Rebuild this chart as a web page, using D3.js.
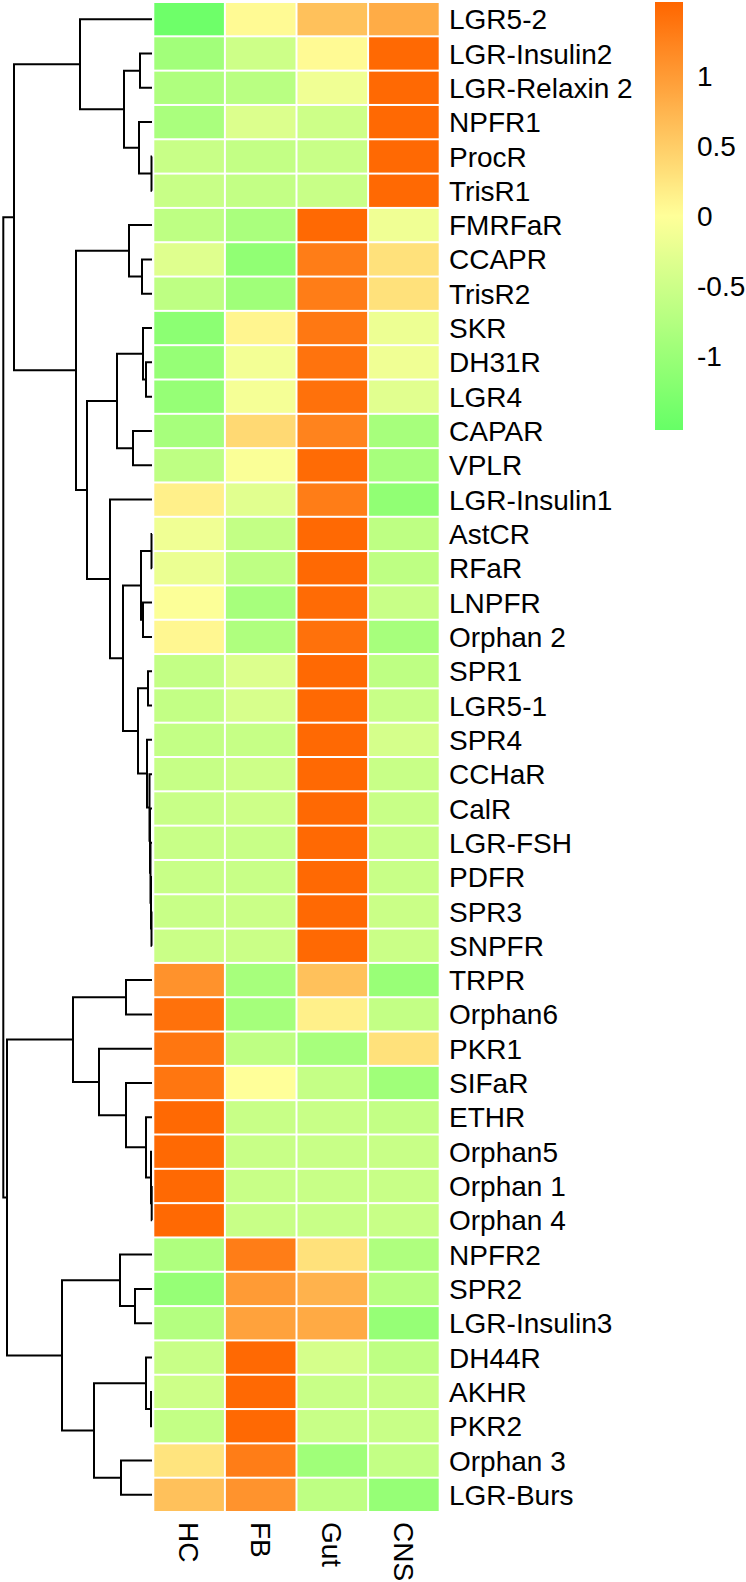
<!DOCTYPE html>
<html>
<head>
<meta charset="utf-8">
<script src="https://cdn.jsdelivr.net/npm/d3@7"></script>
<style>
  html, body { margin: 0; padding: 0; background: #fff; }
  svg { display: block; }
  text { font-family: "Liberation Sans", Arial, Helvetica, sans-serif; fill: #000; }
</style>
</head>
<body>
<svg id="chart" width="746" height="1582"></svg>
<script>
// ---------------- data ----------------
const rows = ["LGR5-2","LGR-Insulin2","LGR-Relaxin 2","NPFR1","ProcR","TrisR1","FMRFaR","CCAPR","TrisR2",
  "SKR","DH31R","LGR4","CAPAR","VPLR","LGR-Insulin1","AstCR","RFaR","LNPFR","Orphan 2","SPR1","LGR5-1",
  "SPR4","CCHaR","CalR","LGR-FSH","PDFR","SPR3","SNPFR","TRPR","Orphan6","PKR1","SIFaR","ETHR","Orphan5",
  "Orphan 1","Orphan 4","NPFR2","SPR2","LGR-Insulin3","DH44R","AKHR","PKR2","Orphan 3","LGR-Burs"];

const cols = ["HC","FB","Gut","CNS"];

const HC  = [-1.45,-0.93,-0.80,-0.85,-0.55,-0.55,-0.65,-0.32,-0.65,-1.15,-1.05,-1.05,-0.88,-0.65,0.15,-0.15,
  -0.20,-0.03,0.08,-0.60,-0.60,-0.60,-0.57,-0.55,-0.55,-0.55,-0.55,-0.53,1.09,1.42,1.37,1.37,1.50,1.50,1.50,1.50,
  -0.80,-1.05,-0.75,-0.55,-0.50,-0.60,0.27,0.62];
const FB  = [0.05,-0.50,-0.70,-0.35,-0.60,-0.60,-0.85,-1.10,-0.95,0.10,-0.12,-0.10,0.38,-0.05,-0.30,-0.60,
  -0.65,-0.88,-0.80,-0.35,-0.40,-0.57,-0.50,-0.50,-0.55,-0.55,-0.53,-0.53,-0.88,-0.90,-0.65,0.00,-0.55,-0.55,-0.55,-0.55,
  1.30,1.00,0.93,1.50,1.50,1.50,1.30,1.08];
const Gut = [0.62,0.05,-0.15,-0.50,-0.55,-0.55,1.50,1.30,1.30,1.35,1.40,1.42,1.24,1.48,1.30,1.50,
  1.50,1.48,1.42,1.50,1.50,1.50,1.50,1.50,1.50,1.50,1.50,1.50,0.62,0.15,-0.88,-0.58,-0.55,-0.55,-0.55,-0.55,
  0.30,0.77,0.85,-0.42,-0.55,-0.55,-0.95,-0.65];
const CNS = [0.83,1.50,1.50,1.50,1.50,1.50,-0.15,0.30,0.30,-0.18,-0.15,-0.30,-0.88,-0.88,-1.10,-0.65,
  -0.65,-0.55,-0.88,-0.65,-0.55,-0.42,-0.55,-0.55,-0.55,-0.55,-0.53,-0.53,-1.02,-0.60,0.30,-0.95,-0.60,-0.55,-0.55,-0.55,
  -0.80,-0.72,-1.05,-0.65,-0.55,-0.55,-0.60,-1.05];

const legendTicks = [-1, -0.5, 0, 0.5, 1];
const legendLabels = ["-1", "-0.5", "0", "0.5", "1"];

// row dendrogram: [left, right, height]; strings = leaves, numbers = earlier merge index
const merges = [
  ["LGR-Insulin2","LGR-Relaxin 2",12],   //0
  ["ProcR","TrisR1",0.5],                //1
  ["NPFR1",1,13],                        //2
  [0,2,28],                              //3
  ["LGR5-2",3,72],                       //4
  ["CCAPR","TrisR2",10],                 //5
  ["FMRFaR",5,23],                       //6
  ["DH31R","LGR4",6],                    //7
  ["SKR",7,9],                           //8
  ["CAPAR","VPLR",19],                   //9
  [8,9,35],                              //10
  ["AstCR","RFaR",0.5],                  //11
  ["LNPFR","Orphan 2",9],                //12
  [11,12,11],                            //13
  ["SPR1","LGR5-1",4],                   //14
  ["SPR3","SNPFR",0.5],                  //15
  ["PDFR",15,1],                         //16
  ["LGR-FSH",16,1.5],                    //17
  ["CalR",17,2],                         //18
  ["CCHaR",18,2.5],                      //19
  ["SPR4",19,5],                         //20
  [14,20,14],                            //21
  [13,21,29],                            //22
  ["LGR-Insulin1",22,42],                //23
  [10,23,65],                            //24
  [6,24,76],                             //25
  [4,25,138],                            //26
  ["TRPR","Orphan6",26],                 //27
  ["Orphan 1","Orphan 4",0.3],           //28
  ["Orphan5",28,1],                      //29
  ["ETHR",29,6],                         //30
  ["SIFaR",30,26],                       //31
  ["PKR1",31,53],                        //32
  [27,32,79],                            //33
  ["SPR2","LGR-Insulin3",17],            //34
  ["NPFR2",34,32],                       //35
  ["AKHR","PKR2",1],                     //36
  ["DH44R",36,6],                        //37
  ["Orphan 3","LGR-Burs",31],            //38
  [37,38,58],                            //39
  [35,39,90],                            //40
  [33,40,145],                           //41
  [26,41,148.7]                          //42
];

// ---------------- drawing ----------------
const series = {HC, FB, Gut, CNS};
const svg = d3.select("#chart");
const FONT = 28;

const y = d3.scaleBand().domain(rows).range([2, 1512]);
const x = d3.scaleBand().domain(cols).range([153.3, 439.7]);
const color = d3.scaleLinear().domain([-1.53, 0, 1.53]).range(["#66FF66", "#FFFF99", "#FF6600"]);
const hx = d3.scaleLinear().domain([0, 148.7]).range([152, 3.3]);

// cells
const cells = [];
rows.forEach((r, i) => cols.forEach(c => cells.push({r, c, v: series[c][i]})));
svg.append("g").selectAll("rect").data(cells).join("rect")
  .attr("x", d => x(d.c) + 1)
  .attr("y", d => y(d.r) + 1)
  .attr("width", x.bandwidth() - 2)
  .attr("height", y.bandwidth() - 2)
  .attr("fill", d => color(d.v));

// row labels
svg.append("g").selectAll("text").data(rows).join("text")
  .attr("x", 449)
  .attr("y", d => y(d) + y.bandwidth() / 2)
  .attr("dy", "0.36em")
  .attr("font-size", FONT)
  .text(d => d);

// column labels (rotated)
svg.append("g").selectAll("text").data(cols).join("text")
  .attr("transform", d => `translate(${x(d) + x.bandwidth() / 2},1522) rotate(90)`)
  .attr("dy", "0.36em")
  .attr("font-size", FONT)
  .text(d => d);

// dendrogram
const nodePos = [];
function pos(ref) {
  if (typeof ref === "string") return {x: hx(0), y: y(ref) + y.bandwidth() / 2};
  return nodePos[ref];
}
const dg = svg.append("g").attr("fill", "none").attr("stroke", "#000").attr("stroke-width", 2);
merges.forEach((m, i) => {
  const a = pos(m[0]), b = pos(m[1]);
  const nx = hx(m[2]);
  nodePos[i] = {x: nx, y: (a.y + b.y) / 2};
  const p = d3.path();
  p.moveTo(a.x, a.y);
  p.lineTo(nx, a.y);
  p.lineTo(nx, b.y);
  p.lineTo(b.x, b.y);
  dg.append("path").attr("d", p.toString());
});

// colour legend
const ly = d3.scaleLinear().domain([-1.53, 1.53]).range([430, 2]);
const defs = svg.append("defs");
const grad = defs.append("linearGradient").attr("id", "lg")
  .attr("x1", 0).attr("y1", 1).attr("x2", 0).attr("y2", 0);
d3.range(0, 1.0001, 0.05).forEach(t => {
  const v = -1.53 + t * 3.06;
  grad.append("stop").attr("offset", t).attr("stop-color", color(v));
});
svg.append("rect")
  .attr("x", 655).attr("y", ly(1.53))
  .attr("width", 28).attr("height", ly(-1.53) - ly(1.53))
  .attr("fill", "url(#lg)");
svg.append("g").selectAll("text").data(legendTicks).join("text")
  .attr("x", 697)
  .attr("y", d => ly(d))
  .attr("dy", "0.36em")
  .attr("font-size", FONT)
  .text((d, i) => legendLabels[i]);
</script>
</body>
</html>
